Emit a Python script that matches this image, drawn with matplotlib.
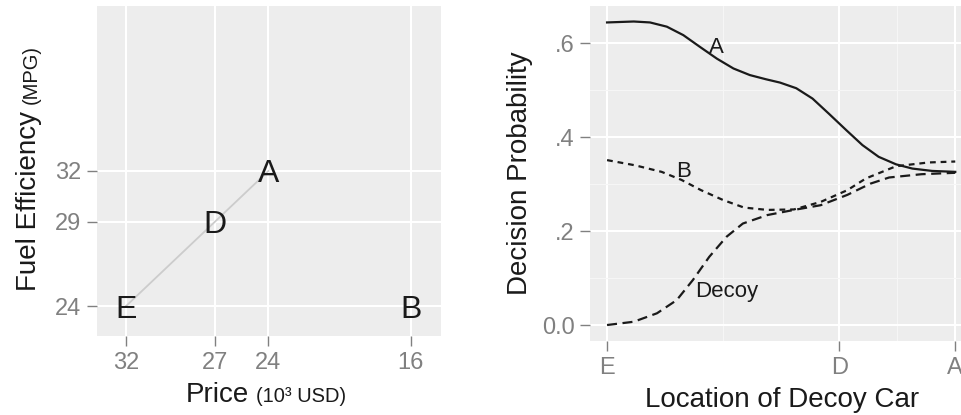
import matplotlib
matplotlib.use("Agg")
import matplotlib.pyplot as plt
from matplotlib.ticker import FixedLocator

# ---------------- data ----------------
# Left panel: car attributes
cars = ["A", "B", "D", "E"]
price = [24, 16, 27, 32]          # 10^3 USD
mpg = [32, 24, 29, 24]            # MPG
line_cars = ["E", "D", "A"]       # grey connecting line
price_ticks = [32, 27, 24, 16]
mpg_ticks = [24, 29, 32]

# Right panel: decision probabilities vs. location of decoy (E=0, D=2, A=3)
a_x = [0.0, 0.23, 0.37, 0.515, 0.657, 0.80, 0.946, 1.089, 1.23, 1.37, 1.49, 1.63, 1.77,
       1.91, 2.06, 2.20, 2.34, 2.49, 2.63, 2.80, 3.0]
a_y = [0.644, 0.646, 0.644, 0.635, 0.617, 0.592, 0.567, 0.546, 0.532, 0.523, 0.516, 0.504,
       0.482, 0.450, 0.415, 0.383, 0.358, 0.342, 0.333, 0.328, 0.326]
b_x = [0.0, 0.24, 0.47, 0.64, 0.81, 1.0, 1.18, 1.38, 1.61, 1.84, 2.07, 2.23, 2.49, 2.77, 3.0]
b_y = [0.351, 0.340, 0.326, 0.309, 0.287, 0.266, 0.250, 0.245, 0.246, 0.262, 0.287, 0.312,
       0.338, 0.346, 0.348]
d_x = [0.0, 0.23, 0.43, 0.60, 0.74, 0.88, 1.03, 1.17, 1.38, 1.61, 1.84, 2.07, 2.27, 2.43,
       2.71, 3.0]
d_y = [0.0, 0.007, 0.025, 0.053, 0.096, 0.145, 0.188, 0.216, 0.234, 0.245, 0.255, 0.277,
       0.301, 0.314, 0.321, 0.324]
loc_ticks = [0, 2, 3]
loc_labels = ["E", "D", "A"]
prob_ticks = [0.0, 0.2, 0.4, 0.6]
prob_labels = ["0.0", ".2", ".4", ".6"]
series_labels = ["A", "B", "Decoy"]
label_x = [0.94, 0.66, 1.03]
label_y = [0.596, 0.333, 0.076]

# ---------------- style ----------------
FONT = "Liberation Sans"
plt.rcParams["font.family"] = [FONT, "DejaVu Sans"]
BG = "#EDEDED"
TICKC = "#808080"
TXT = "#1a1a1a"
W, H = 962, 415
fig = plt.figure(figsize=(W / 100, H / 100), dpi=100)


def px(x, y):
    return x / W, (H - y) / H


def style(ax):
    ax.set_facecolor(BG)
    for s in ax.spines.values():
        s.set_visible(False)
    ax.tick_params(length=7.2, width=1.0, color=TICKC, labelcolor=TICKC,
                   labelsize=17, pad=4)
    ax.set_axisbelow(True)


# ---------------- left panel ----------------
ax1 = fig.add_axes([97 / W, (H - 336) / H, 344 / W, 330 / H])
style(ax1)
ax1.set_xlim(33.63, 14.31)
ax1.set_ylim(22.23, 41.76)
ax1.xaxis.set_major_locator(FixedLocator(price_ticks))
ax1.yaxis.set_major_locator(FixedLocator(mpg_ticks))
ax1.set_xticklabels([str(v) for v in price_ticks])
ax1.set_yticklabels([str(v) for v in mpg_ticks])
ax1.grid(True, which="major", color="white", linewidth=1.5)

lx = [price[cars.index(c)] for c in line_cars]
ly = [mpg[cars.index(c)] for c in line_cars]
ax1.plot(lx, ly, color="#CCCCCC", linewidth=1.3, zorder=2)
for c, x, y in zip(cars, price, mpg):
    fs = 23
    ax1.annotate(c, (x, y), xytext=(0, -0.358 * fs), textcoords="offset points",
                 ha="center", va="baseline", fontsize=fs, color=TXT, zorder=3)

# axis titles (mixed sizes)
fig.text(*px(249, 401.7), "Price", ha="right", va="baseline", fontsize=20, color=TXT)
fig.text(*px(256, 401.7), "(10\u00b3 USD)", ha="left", va="baseline", fontsize=14.5, color=TXT)
fig.text(*px(36.5, 111), "Fuel Efficiency", rotation=90, rotation_mode="anchor",
         ha="right", va="baseline", fontsize=20, color=TXT)
fig.text(*px(36.5, 104), "(MPG)", rotation=90, rotation_mode="anchor",
         ha="left", va="baseline", fontsize=14.5, color=TXT)

# ---------------- right panel ----------------
ax2 = fig.add_axes([590 / W, (H - 341) / H, 385 / W, 335 / H])
style(ax2)
ax2.set_xlim(-0.147, 3.17)
ax2.set_ylim(-0.034, 0.679)
ax2.xaxis.set_major_locator(FixedLocator(loc_ticks))
ax2.set_xticklabels(loc_labels)
ax2.yaxis.set_major_locator(FixedLocator(prob_ticks))
ax2.set_yticklabels(prob_labels)
ax2.xaxis.set_minor_locator(FixedLocator([1.0, 2.5]))
ax2.yaxis.set_minor_locator(FixedLocator([0.1, 0.3, 0.5]))
ax2.tick_params(which="minor", length=0)
ax2.grid(True, which="minor", color="#F6F6F6", linewidth=0.8)
ax2.grid(True, which="major", color="white", linewidth=1.5)

lw = 1.6
ax2.plot(a_x, a_y, color=TXT, linewidth=lw, linestyle="-", solid_joinstyle="round")
ax2.plot(b_x, b_y, color=TXT, linewidth=lw, linestyle=(0, (2.6, 2.2)), dash_capstyle="butt")
ax2.plot(d_x, d_y, color=TXT, linewidth=lw, linestyle=(0, (4.5, 2.5)), dash_capstyle="butt")
for t, x, y in zip(series_labels, label_x, label_y):
    fs = 16
    ax2.annotate(t, (x, y), xytext=(0, -0.358 * fs), textcoords="offset points",
                 ha="center", va="baseline", fontsize=fs, color=TXT)

fig.text(*px(781.7, 406.7), "Location of Decoy Car", ha="center", va="baseline",
         fontsize=20, color=TXT)
fig.text(*px(526.7, 173.3), "Decision Probability", rotation=90, rotation_mode="anchor",
         ha="center", va="baseline", fontsize=20, color=TXT)

fig.savefig("out.png", dpi=100)
